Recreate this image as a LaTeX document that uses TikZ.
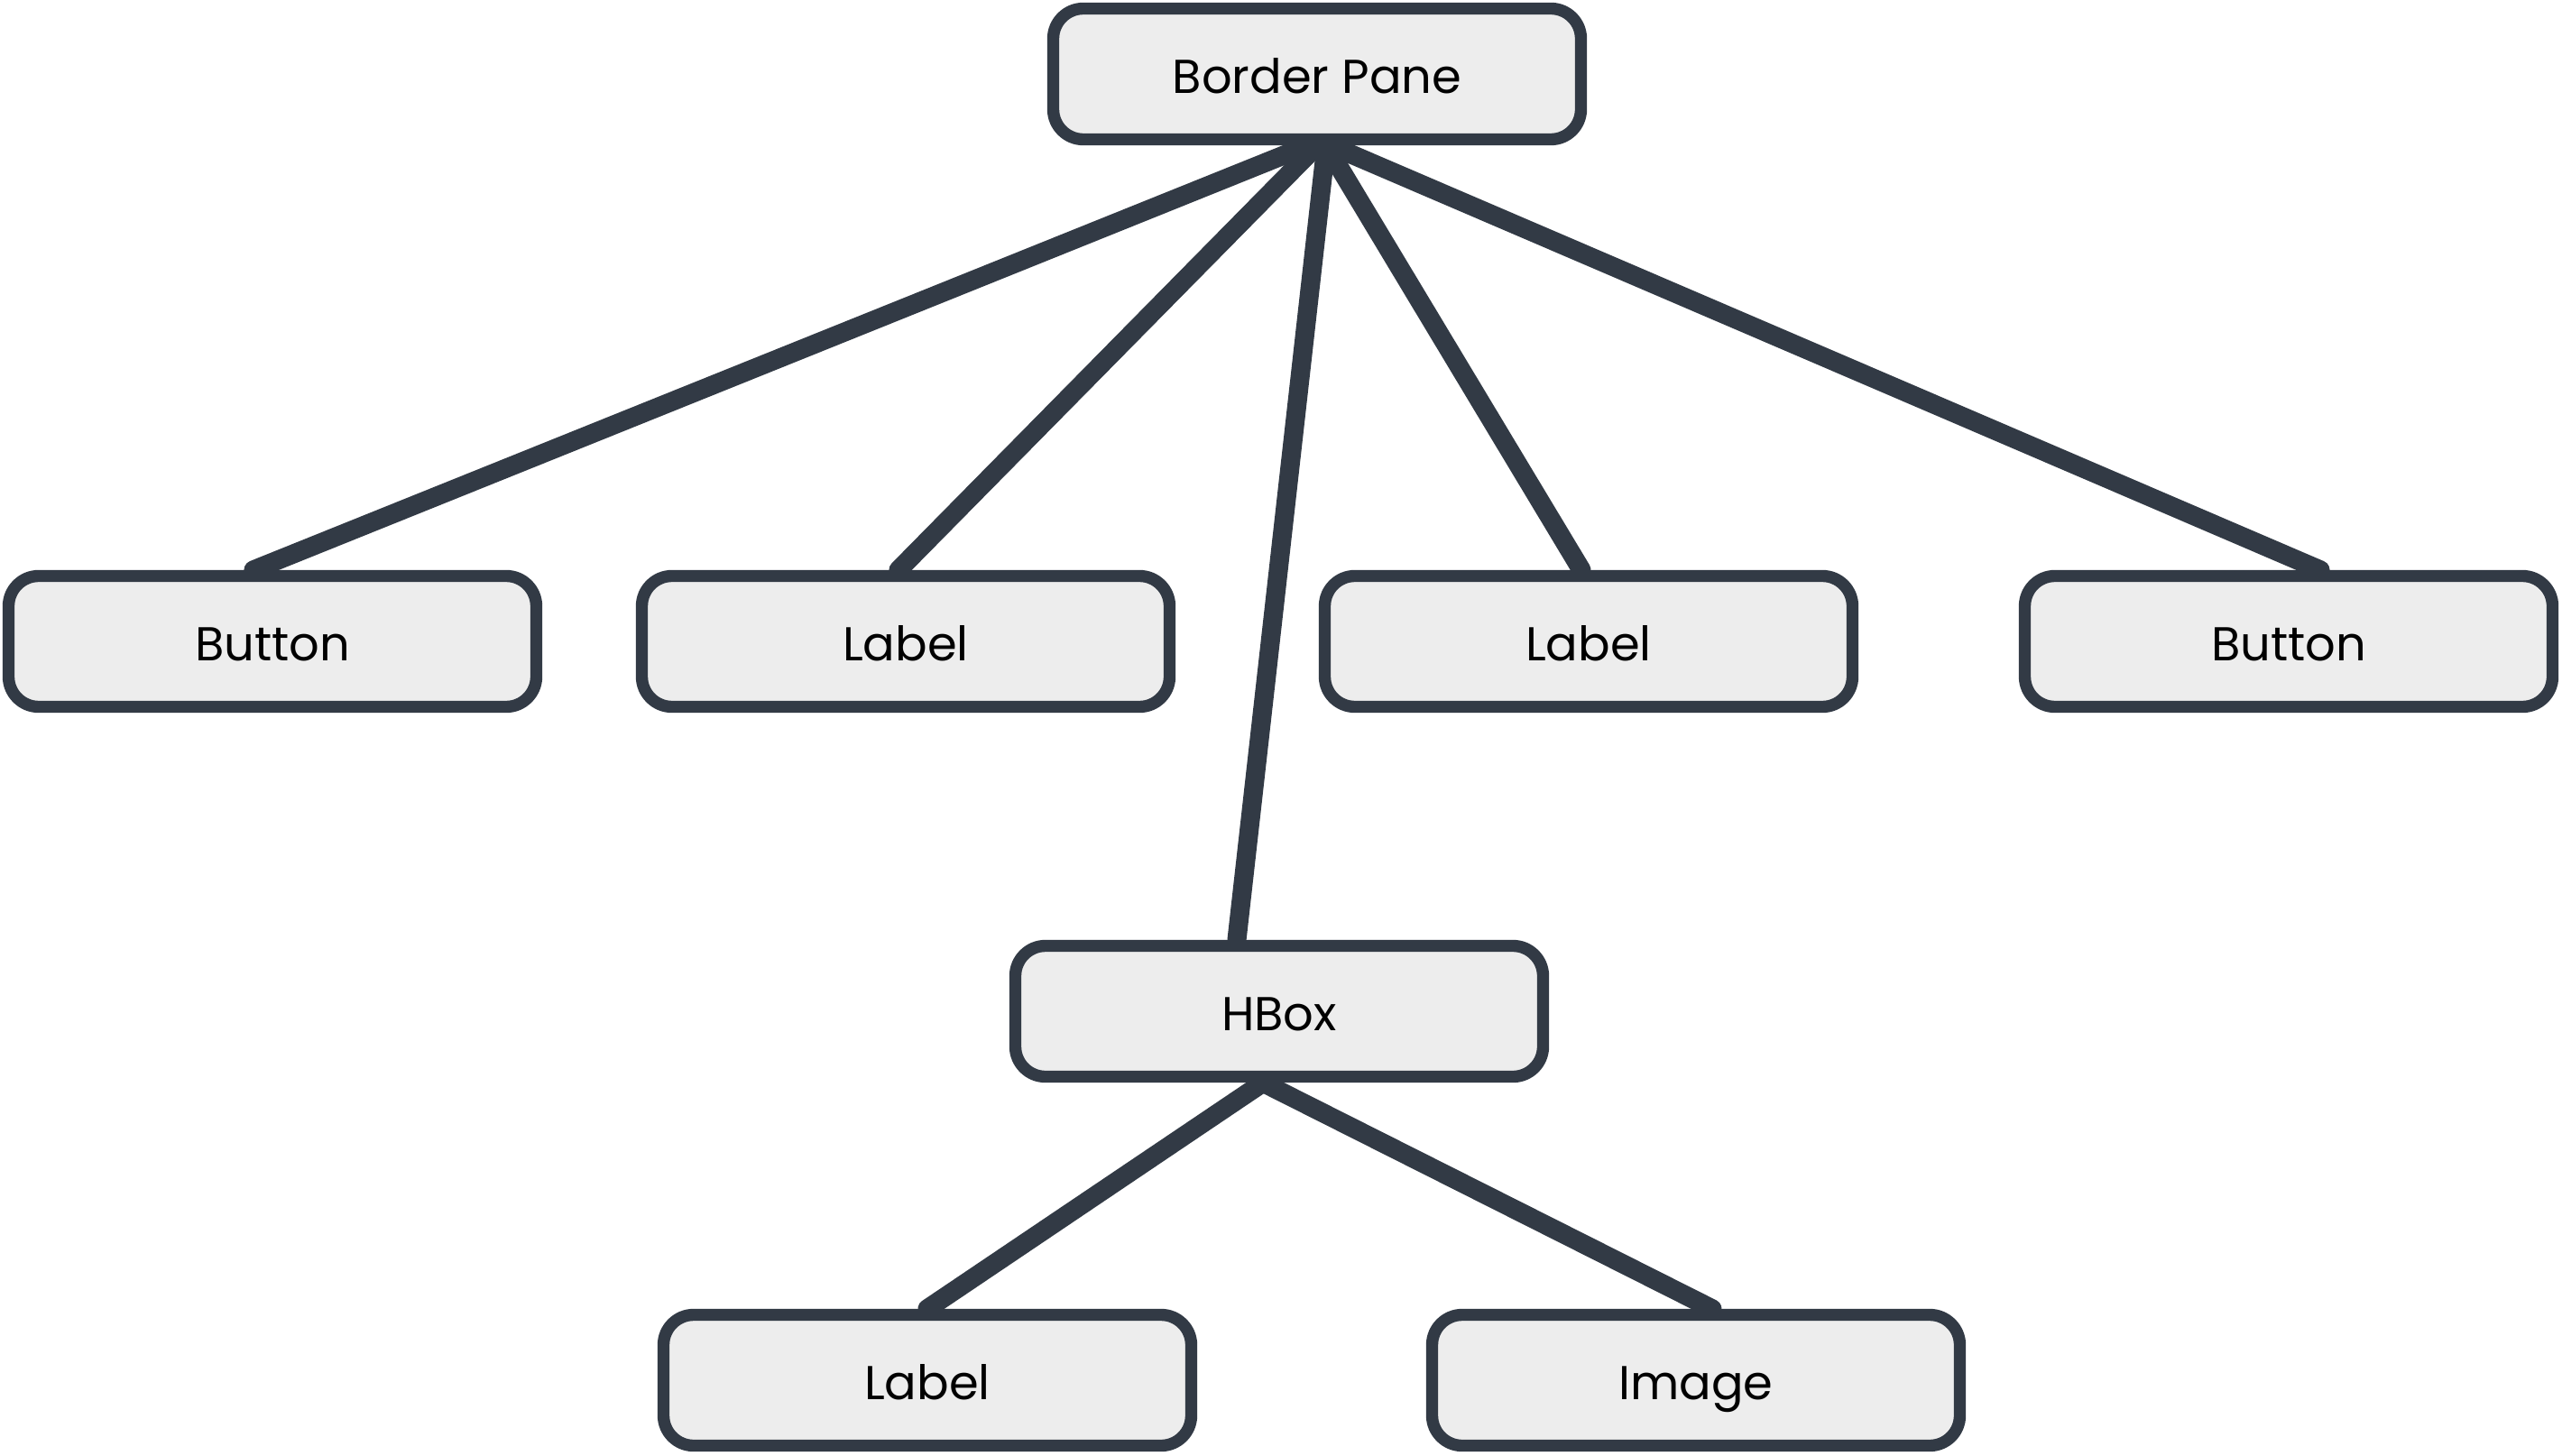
\documentclass[tikz,border=0pt]{standalone}
\usepackage{fontspec}
\setmainfont{Poppins}
\usetikzlibrary{positioning,calc}
\definecolor{edgegray}{HTML}{323A45}
\definecolor{boxgray}{HTML}{EDEDED}
\tikzset{
  ctrl/.style={rectangle,draw=edgegray,fill=boxgray,line width=3.8pt,rounded corners=9.5pt,
    minimum width=5.85cm,minimum height=1.45cm,text height=12pt,text depth=0pt,
    font=\fontsize{15}{17}\selectfont},
  link/.style={draw=edgegray,line width=6pt,line cap=round},
}
\begin{document}
\begin{tikzpicture}
  \useasboundingbox (0,0) rectangle (28.4,-16.14);
  % root
  \node[ctrl] (bp) at (14.60,-0.82) {Border Pane};
  % first level
  \node[ctrl] (btnl) at (3.02,-7.11) {Button};
  \node[ctrl] (lbll) at (10.04,-7.11) {Label};
  \node[ctrl] (lblr) at (17.61,-7.11) {Label};
  \node[ctrl] (btnr) at (25.37,-7.11) {Button};
  \node[ctrl] (hbox) at (14.18,-11.21) {HBox};
  % inside the hbox
  \node[ctrl] (lblh) at (10.28,-15.30) {Label};
  \node[ctrl] (img) at (18.80,-15.30) {Image};
  % links
  \draw[link] ([xshift=-1mm]bp.south) -- ([xshift=-2.1mm]btnl.north);
  \draw[link] (bp.south) -- ([xshift=-0.8mm]lbll.north);
  \draw[link] ([xshift=1mm]bp.south) -- ([xshift=-4.7mm]hbox.north);
  \draw[link] ([xshift=1mm]bp.south) -- ([xshift=-0.8mm]lblr.north);
  \draw[link] ([xshift=1.5mm]bp.south) -- ([xshift=3.5mm]btnr.north);
  \draw[link] ([xshift=-1.8mm]hbox.south) -- (lblh.north);
  \draw[link] ([xshift=-1.8mm]hbox.south) -- ([xshift=1.8mm]img.north);
\end{tikzpicture}
\end{document}
